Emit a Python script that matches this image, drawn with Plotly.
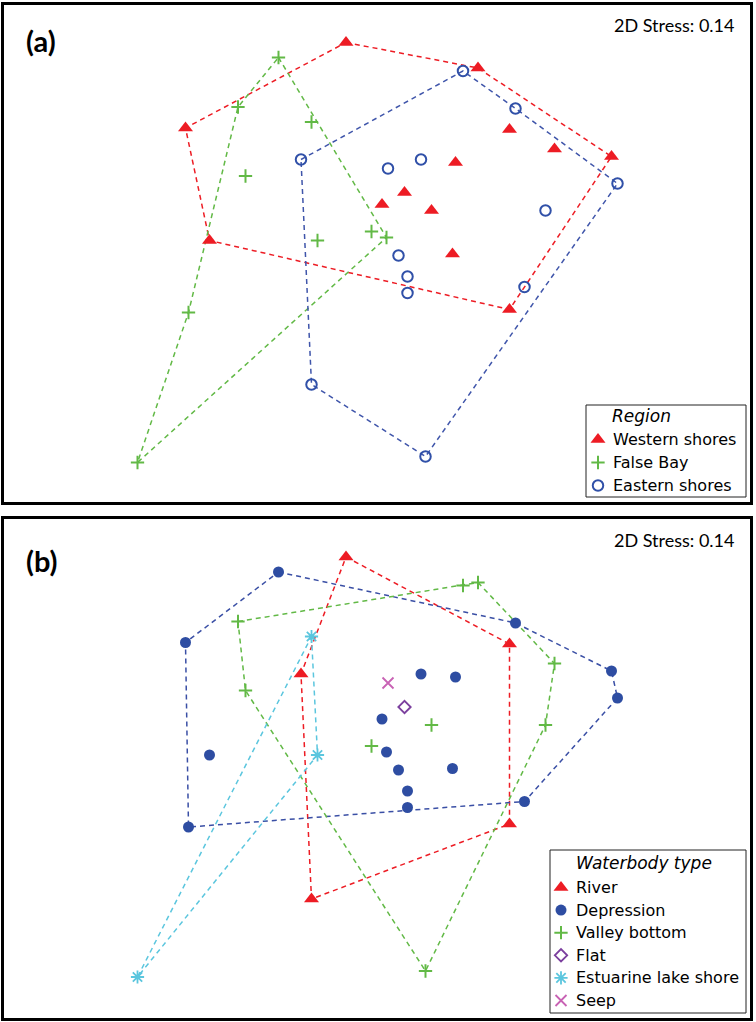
import plotly.graph_objects as go

W, H = 756, 1022

# ---- data: nMDS coordinates of 35 sites ----
site_x = [-0.36, 0.52, -1.43, 0.73, 1.03, 1.41, 0.37, 0.03, -0.12, 0.21, -1.27, 0.35, 0.73,
          -0.81, -1.08, -0.59, -1.03, -0.55, -0.19, -0.09, -1.41, -1.75,
          0.42, 0.77, 1.45, 0.97, 0.14, -0.08, -0.66, -0.01, 0.05, 0.05, 0.83, -0.59, 0.17]
site_y = [1.45, 1.28, 0.88, 0.87, 0.74, 0.69, 0.65, 0.45, 0.37, 0.33, 0.13, 0.04, -0.33,
          1.35, 1.02, 0.92, 0.56, 0.13, 0.19, 0.15, -0.35, -1.35,
          1.26, 1.01, 0.51, 0.33, 0.67, 0.61, 0.67, 0.03, -0.11, -0.22, -0.18, -0.83, -1.31]

site_region = (["Western shores"] * 13) + (["False Bay"] * 9) + (["Eastern shores"] * 13)
site_waterbody = ["River", "Valley bottom", "Depression", "River", "Valley bottom", "Depression",
                  "Depression", "Flat", "Depression", "Valley bottom", "Depression", "Depression",
                  "River", "Depression", "Valley bottom", "Estuarine lake shore", "Valley bottom",
                  "Estuarine lake shore", "Valley bottom", "Depression", "Depression",
                  "Estuarine lake shore", "Valley bottom", "Depression", "Depression",
                  "Valley bottom", "Depression", "Seep", "River", "Depression", "Depression",
                  "Depression", "Depression", "River", "Valley bottom"]

region_names = ["Western shores", "False Bay", "Eastern shores"]
waterbody_names = ["River", "Depression", "Valley bottom", "Flat", "Estuarine lake shore", "Seep"]

# outline (hull) vertex order, as site indices
region_hulls = {
    "Western shores": [0, 1, 5, 12, 10, 2],
    "False Bay": [13, 19, 21, 20, 14],
    "Eastern shores": [28, 22, 23, 24, 34, 33],
}
waterbody_hulls = {
    "River": [0, 3, 12, 33, 28],
    "Depression": [13, 23, 5, 24, 32, 20, 2],
    "Valley bottom": [14, 22, 1, 4, 25, 34, 16],
    "Estuarine lake shore": [15, 17, 21],
}

stress_label = "2D Stress: 0.14"

# ---- styles ----
RED = "#ED1C24"
GREEN = "#62B946"
BLUE_O = "#3050A8"
BLUE_F = "#2E4DA2"
PURPLE = "#7B3F9E"
CYAN = "#5BC6DE"
PINK = "#C862B4"

style = {
    "Western shores": dict(symbol="triangle-up", size=13, color=RED, lw=0, hull=RED),
    "False Bay": dict(symbol="cross-thin-open", size=9.5, color=GREEN, lw=2, hull=GREEN),
    "Eastern shores": dict(symbol="circle-open", size=10.5, color=BLUE_O, lw=2, hull="#3F55AA"),
    "River": dict(symbol="triangle-up", size=13, color=RED, lw=0, hull=RED),
    "Depression": dict(symbol="circle", size=11, color=BLUE_F, lw=0, hull="#3A4FA5"),
    "Valley bottom": dict(symbol="cross-thin-open", size=9.5, color=GREEN, lw=2, hull=GREEN),
    "Flat": dict(symbol="diamond-open", size=9.5, color=PURPLE, lw=1.8, hull=PURPLE),
    "Estuarine lake shore": dict(symbol="asterisk-open", size=11, color=CYAN, lw=1.8, hull=CYAN),
    "Seep": dict(symbol="x-thin-open", size=11, color=PINK, lw=1.8, hull=PINK),
}

# page geometry (pixels)
BOX_L, BOX_R = 4, 750
A_TOP, A_BOT = 5, 502
B_TOP, B_BOT = 519, 1018
X_RANGE = [-2.64, 2.3333]
A_YRANGE = [-1.6133, 1.70]
B_YRANGE = [-1.6233, 1.7033]


def px(x):
    return x / W


def py(y):
    return 1 - y / H


def pix_to_data(xp, yp, top, bot, yr):
    xd = X_RANGE[0] + (xp - BOX_L) / (BOX_R - BOX_L) * (X_RANGE[1] - X_RANGE[0])
    yd = yr[1] - (yp - top) / (bot - top) * (yr[1] - yr[0])
    return xd, yd


fig = go.Figure()


def add_panel(groups, labels, hulls, xa, ya):
    for g in groups:
        if g in hulls:
            idx = hulls[g] + [hulls[g][0]]
            fig.add_trace(go.Scatter(
                x=[site_x[i] for i in idx], y=[site_y[i] for i in idx],
                mode="lines", xaxis=xa, yaxis=ya, hoverinfo="skip",
                line=dict(color=style[g]["hull"], width=1.5, dash="5px,4px")))
    for g in groups:
        idx = [i for i, lab in enumerate(labels) if lab == g]
        s = style[g]
        fig.add_trace(go.Scatter(
            x=[site_x[i] for i in idx], y=[site_y[i] for i in idx],
            mode="markers", xaxis=xa, yaxis=ya, name=g,
            marker=dict(symbol=s["symbol"], size=s["size"], color=s["color"],
                        line=dict(color=s["color"], width=s["lw"]))))


add_panel(region_names, site_region, region_hulls, "x", "y")
add_panel(waterbody_names, site_waterbody, waterbody_hulls, "x2", "y2")


def add_legend(names, title, box, title_xy, key_x, text_x, y0, dy, xa, ya, top, bot, yr):
    fig.add_shape(type="rect", xref="paper", yref="paper",
                  x0=px(box[0]), x1=px(box[2]), y0=py(box[3]), y1=py(box[1]),
                  line=dict(color="#222222", width=1), fillcolor="white", layer="below")
    fig.add_annotation(x=px(title_xy[0]), y=py(title_xy[1]), xref="paper", yref="paper",
                       text="<i>%s</i>" % title, showarrow=False, xanchor="left", yanchor="middle",
                       font=dict(family="DejaVu Sans", size=17, color="black"))
    for k, n in enumerate(names):
        s = style[n]
        yy = y0 + k * dy
        kx, ky = pix_to_data(key_x, yy, top, bot, yr)
        fig.add_trace(go.Scatter(
            x=[kx], y=[ky], mode="markers", xaxis=xa, yaxis=ya, hoverinfo="skip",
            marker=dict(symbol=s["symbol"], size=s["size"], color=s["color"],
                        line=dict(color=s["color"], width=s["lw"]))))
        fig.add_annotation(x=px(text_x), y=py(yy), xref="paper", yref="paper", text=n,
                           showarrow=False, xanchor="left", yanchor="middle",
                           font=dict(family="DejaVu Sans", size=16, color="black"))


add_legend(region_names, "Region", (586, 405, 746, 497), (610, 416), 598, 611, 439.5, 23,
           "x", "y", A_TOP, A_BOT, A_YRANGE)
add_legend(waterbody_names, "Waterbody type", (550, 850, 746, 1013), (574, 863), 561, 574, 887.5, 22.6,
           "x2", "y2", B_TOP, B_BOT, B_YRANGE)

for lab, ly, sy in [("(a)", 40, 25), ("(b)", 560, 540)]:
    fig.add_annotation(x=px(24), y=py(ly), xref="paper", yref="paper", text="<b>%s</b>" % lab,
                       showarrow=False, xanchor="left", yanchor="middle",
                       font=dict(family="Lato", size=29, color="black"))
    fig.add_annotation(x=px(737), y=py(sy), xref="paper", yref="paper", text=stress_label,
                       showarrow=False, xanchor="right", yanchor="middle",
                       font=dict(family="Lato", size=18, color="black"))

axis_common = dict(showgrid=False, zeroline=False, showticklabels=False, ticks="",
                   showline=True, mirror=True, linecolor="black", linewidth=2.5)

fig.update_layout(
    width=W, height=H, margin=dict(l=0, r=0, t=0, b=0, pad=0),
    paper_bgcolor="white", plot_bgcolor="rgba(0,0,0,0)", showlegend=False,
    xaxis=dict(domain=[px(BOX_L), px(BOX_R)], range=X_RANGE, anchor="y", **axis_common),
    yaxis=dict(domain=[py(A_BOT), py(A_TOP)], range=A_YRANGE, anchor="x", **axis_common),
    xaxis2=dict(domain=[px(BOX_L), px(BOX_R)], range=X_RANGE, anchor="y2", **axis_common),
    yaxis2=dict(domain=[py(B_BOT), py(B_TOP)], range=B_YRANGE, anchor="x2", **axis_common),
)

fig.write_html("out.html", config={"displayModeBar": False},
               post_script="document.body.style.margin='0px';")
